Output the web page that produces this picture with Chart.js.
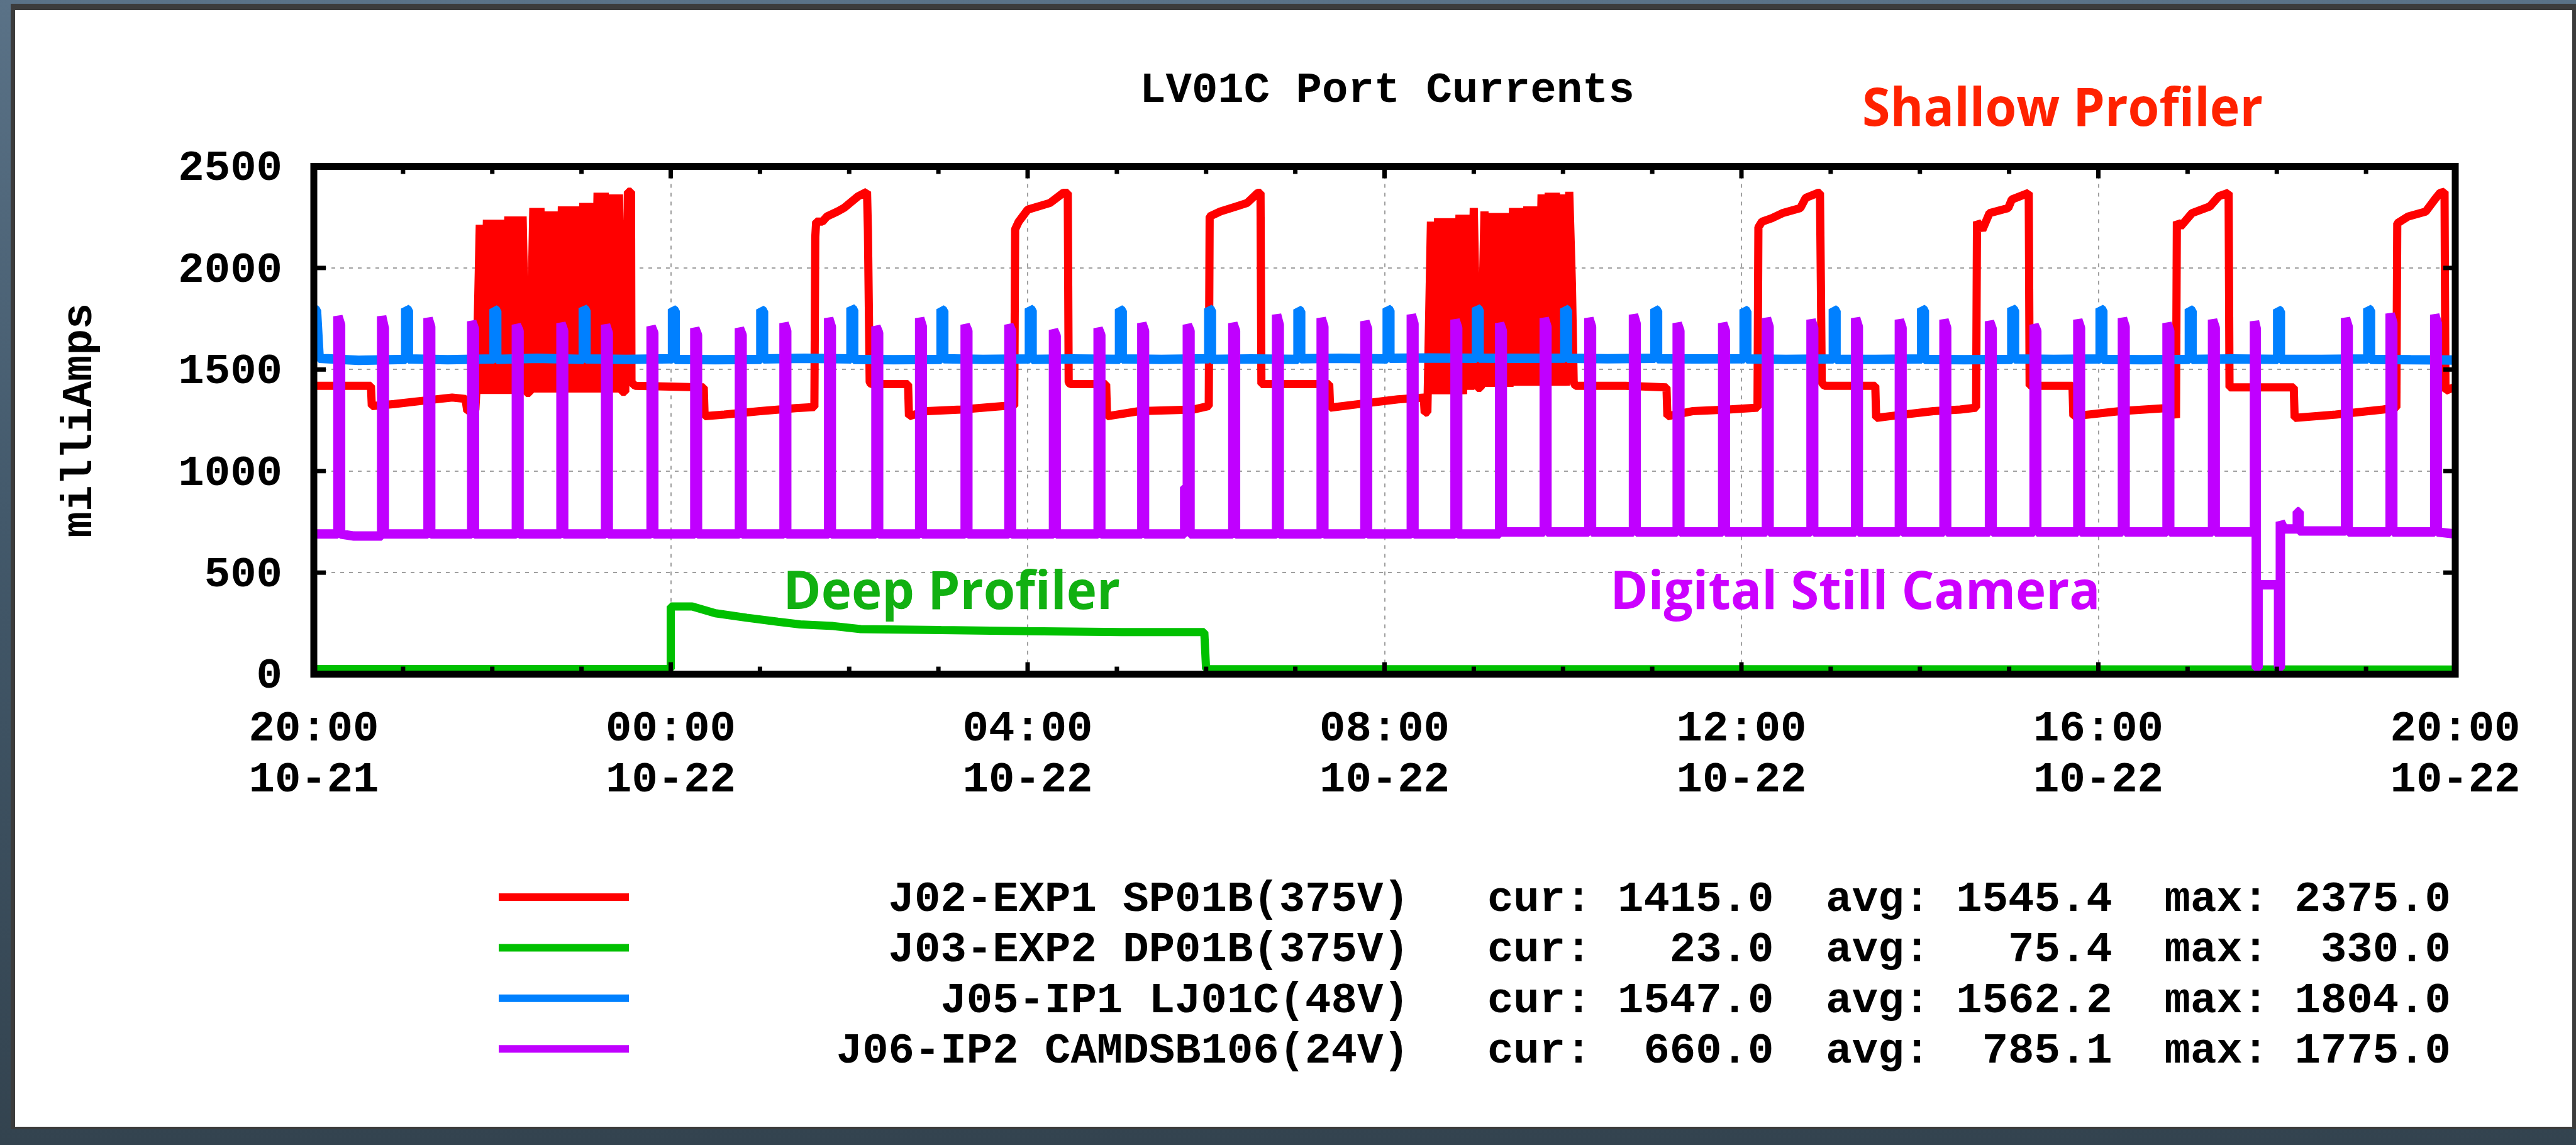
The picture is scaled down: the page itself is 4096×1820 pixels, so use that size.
<!DOCTYPE html>
<html>
<head>
<meta charset="utf-8">
<script src="https://cdn.jsdelivr.net/npm/chart.js@4.4.0/dist/chart.umd.min.js"></script>
<style>
  html, body { margin: 0; padding: 0; width: 4096px; height: 1820px; overflow: hidden; }
  #bg { position: absolute; left: 0; top: 0; width: 4096px; height: 1820px;
        background: linear-gradient(180deg, #5a7287 0%, #43596b 45%, #33434f 100%); }
  #win { position: absolute; left: 17px; top: 6px; width: 4079px; height: 1789px; background: #3c3c3c; }
  #panel { position: absolute; left: 24px; top: 16px; width: 4066px; height: 1775px; background: #ffffff; }
  #c { position: absolute; left: 0; top: 0; }
</style>
</head>
<body>
<div id="bg"></div>
<div id="win"></div>
<div id="panel"></div>
<canvas id="c" width="4096" height="1820"></canvas>
<script>
// ---------------- data (x = hours after 20:00 on 10-21, y = milliAmps) ----------------
const chartTitle = 'LV01C Port Currents';
const yAxisTitle = 'milliAmps';
const xTickLabels = [['20:00','10-21'],['00:00','10-22'],['04:00','10-22'],['08:00','10-22'],['12:00','10-22'],['16:00','10-22'],['20:00','10-22']];
const yTickLabels = ['0','500','1000','1500','2000','2500'];

const seriesNames = ['J02-EXP1 SP01B(375V)','J03-EXP2 DP01B(375V)','J05-IP1 LJ01C(48V)','J06-IP2 CAMDSB106(24V)'];
const seriesColors = ['#ff0000','#00c000','#0080ff','#c000ff'];
const statCur = [1415.0, 23.0, 1547.0, 660.0];
const statAvg = [1545.4, 75.4, 1562.2, 785.1];
const statMax = [2375.0, 330.0, 1804.0, 1775.0];

const annotations = [
  { text: 'Shallow Profiler', color: '#ff2200' },
  { text: 'Deep Profiler', color: '#11b011' },
  { text: 'Digital Still Camera', color: '#cc00ff' }
];

const sp01b = [
[0.00,1420],[0.64,1420],[0.65,1320],[0.90,1330],[1.20,1345],[1.55,1362],[1.70,1355],[1.72,1295],[1.81,1300],
[1.82,1380],[1.86,2212],[1.90,1380],[1.94,2237],[1.98,1380],[2.02,2237],[2.06,1380],[2.10,2237],[2.14,1380],[2.18,2253],
[2.22,1380],[2.26,2253],[2.30,1380],[2.34,2253],[2.38,1385],[2.42,1385],[2.46,2295],[2.50,1387],[2.54,2295],[2.58,1387],
[2.62,2278],[2.66,1387],[2.70,2278],[2.74,1387],[2.78,2303],[2.82,1387],[2.86,2303],[2.90,1387],[2.94,2303],[2.98,1387],
[3.02,2320],[3.06,1387],[3.10,2320],[3.14,1387],[3.18,2370],[3.22,1387],[3.26,2370],[3.30,1387],[3.34,2362],[3.38,1387],
[3.42,2362],[3.45,1390],[3.49,1390],[3.52,2375],[3.555,2375],[3.56,1437],
[3.60,1420],[4.37,1412],[4.38,1270],[4.60,1278],[5.00,1295],[5.40,1310],[5.61,1315],
[5.62,2153],[5.63,2228],[5.70,2228],[5.75,2253],[5.87,2278],[5.94,2295],[6.10,2353],[6.20,2375],[6.21,2187],[6.23,1437],
[6.25,1428],[6.66,1428],[6.67,1270],[6.87,1295],[7.25,1303],[7.72,1320],[7.85,1320],
[7.86,2190],[7.90,2228],[8.00,2287],[8.25,2320],[8.40,2370],[8.45,2370],[8.46,1437],
[8.48,1428],[8.88,1428],[8.89,1270],[9.25,1295],[9.86,1303],[10.03,1320],
[10.04,2253],[10.16,2278],[10.34,2303],[10.46,2320],[10.58,2370],[10.61,2370],[10.62,1428],
[11.38,1428],[11.39,1312],[11.68,1328],[12.15,1353],[12.44,1362],[12.45,1287],[12.48,1290],
[12.52,2228],[12.56,1378],[12.60,2245],[12.64,1378],[12.68,2245],[12.72,1378],[12.76,2245],[12.80,1378],[12.84,2262],
[12.88,1378],[12.92,2262],[12.96,1400],[13.00,2295],[13.04,1410],[13.08,1410],[13.12,2278],[13.16,1415],[13.20,2270],
[13.24,1415],[13.28,2270],[13.32,1415],[13.36,2270],[13.40,1415],[13.44,2295],[13.48,1420],[13.52,2295],[13.56,1420],
[13.60,2303],[13.64,1420],[13.68,2303],[13.72,1420],[13.76,2362],[13.80,1420],[13.84,2370],[13.88,1420],[13.92,2370],
[13.96,1420],[14.00,2362],[14.03,1420],[14.07,2375],[14.10,1920],[14.12,1437],
[14.14,1420],[14.70,1420],[15.16,1412],[15.17,1270],[15.45,1295],[15.85,1303],[16.18,1312],
[16.19,2200],[16.23,2228],[16.34,2245],[16.46,2270],[16.66,2295],[16.72,2345],[16.86,2370],[16.88,2370],[16.89,1937],[16.90,1437],
[16.93,1420],[17.50,1420],[17.51,1262],[17.66,1270],[18.15,1295],[18.45,1303],[18.63,1312],
[18.64,2228],[18.70,2187],[18.78,2270],[18.99,2295],[19.03,2337],[19.22,2370],[19.23,1420],
[19.71,1420],[19.72,1270],[20.24,1295],[20.84,1312],[20.87,1262],
[20.88,2228],[20.92,2203],[21.05,2270],[21.25,2303],[21.35,2353],[21.46,2370],[21.47,1412],
[22.19,1412],[22.20,1262],[22.66,1278],[23.19,1303],[23.34,1312],
[23.35,2220],[23.47,2253],[23.67,2278],[23.77,2337],[23.83,2370],[23.88,2375],[23.89,1395],[24.00,1415]
];

const dp01b = [
[0.00,25],[4.00,25],[4.00,333],[4.24,333],[4.50,300],[4.85,278],[5.20,258],[5.45,245],[5.82,237],[6.13,222],
[7.03,217],[8.00,212],[9.05,207],[9.98,207],[10.00,25],[16.00,24],[24.00,23]
];

const lj01c = [
[0.00,1800],[0.03,1790],[0.06,1555],[0.50,1545],
[1.03,1550],[1.03,1800],[1.06,1790],[1.06,1552],[1.50,1548],
[2.02,1552],[2.02,1797],[2.05,1788],[2.05,1550],[2.50,1555],
[3.02,1550],[3.02,1802],[3.05,1790],[3.05,1552],[3.50,1550],
[4.02,1553],[4.02,1797],[4.05,1788],[4.05,1550],[4.50,1548],
[5.01,1550],[5.01,1795],[5.04,1786],[5.04,1552],[5.50,1555],
[6.02,1552],[6.02,1804],[6.05,1792],[6.05,1550],[6.50,1548],
[7.03,1550],[7.03,1797],[7.06,1788],[7.06,1553],[7.50,1550],
[8.02,1552],[8.02,1800],[8.05,1790],[8.05,1550],[8.50,1552],
[9.03,1550],[9.03,1797],[9.06,1788],[9.06,1552],[9.50,1550],
[10.03,1553],[10.03,1800],[10.06,1790],[10.06,1550],[10.50,1552],
[11.03,1550],[11.03,1795],[11.06,1786],[11.06,1553],[11.50,1555],
[12.03,1552],[12.03,1800],[12.06,1790],[12.06,1555],[12.50,1557],
[13.03,1555],[13.03,1804],[13.06,1792],[13.06,1556],[13.50,1555],
[14.02,1556],[14.02,1800],[14.05,1790],[14.05,1555],[14.50,1553],
[15.03,1555],[15.03,1797],[15.06,1788],[15.06,1553],[15.50,1552],
[16.03,1553],[16.03,1795],[16.06,1786],[16.06,1552],[16.50,1550],
[17.03,1552],[17.03,1797],[17.06,1788],[17.06,1550],[17.50,1550],
[18.02,1552],[18.02,1800],[18.05,1790],[18.05,1550],[18.50,1548],
[19.03,1550],[19.03,1802],[19.06,1790],[19.06,1552],[19.50,1550],
[20.02,1552],[20.02,1800],[20.05,1790],[20.05,1550],[20.50,1548],
[21.02,1550],[21.02,1797],[21.05,1788],[21.05,1550],[21.50,1552],
[22.01,1550],[22.01,1795],[22.04,1786],[22.04,1550],[22.50,1550],
[23.02,1552],[23.02,1800],[23.05,1790],[23.05,1550],[23.50,1548],[24.00,1547]
];

const camdsb106 = [
[0.00,690],[0.27,690],[0.27,1762],[0.30,1720],[0.30,690],
[0.45,680],[0.76,680],[0.76,1762],[0.79,1703],[0.79,690],
[1.28,690],[1.28,1753],[1.31,1710],[1.31,690],
[1.77,690],[1.77,1737],[1.80,1700],[1.80,690],
[2.27,690],[2.27,1720],[2.30,1690],[2.30,690],
[2.77,690],[2.77,1728],[2.80,1690],[2.80,690],
[3.27,690],[3.27,1720],[3.30,1680],[3.30,690],
[3.78,690],[3.78,1712],[3.81,1680],[3.81,690],
[4.27,690],[4.27,1703],[4.30,1670],[4.30,690],
[4.77,690],[4.77,1703],[4.80,1670],[4.80,690],
[5.27,690],[5.27,1728],[5.30,1690],[5.30,690],
[5.77,690],[5.77,1753],[5.80,1710],[5.80,690],
[6.30,690],[6.30,1712],[6.33,1680],[6.33,690],
[6.79,690],[6.79,1753],[6.82,1710],[6.82,690],
[7.30,690],[7.30,1720],[7.33,1690],[7.33,690],
[7.79,690],[7.79,1720],[7.82,1690],[7.82,690],
[8.29,690],[8.29,1695],[8.32,1665],[8.32,690],
[8.79,690],[8.79,1703],[8.82,1670],[8.82,690],
[9.28,690],[9.28,1728],[9.31,1690],[9.31,690],
[9.76,690],[9.76,920],[9.79,920],[9.79,1720],[9.82,1690],[9.82,690],
[10.30,690],[10.30,1728],[10.33,1690],[10.33,690],
[10.79,690],[10.79,1770],[10.82,1720],[10.82,690],
[11.29,690],[11.29,1753],[11.32,1710],[11.32,690],
[11.78,690],[11.78,1737],[11.81,1700],[11.81,690],
[12.30,690],[12.30,1770],[12.33,1725],[12.33,690],
[12.79,690],[12.79,1745],[12.82,1705],[12.82,690],
[13.29,690],[13.29,1728],[13.32,1690],[13.32,700],
[13.79,700],[13.79,1753],[13.82,1710],[13.82,700],
[14.29,700],[14.29,1753],[14.32,1710],[14.32,700],
[14.79,700],[14.79,1770],[14.82,1725],[14.82,700],
[15.28,700],[15.28,1728],[15.31,1690],[15.31,700],
[15.79,700],[15.79,1728],[15.82,1690],[15.82,700],
[16.28,700],[16.28,1753],[16.31,1710],[16.31,700],
[16.78,700],[16.78,1745],[16.81,1705],[16.81,700],
[17.28,700],[17.28,1753],[17.31,1710],[17.31,700],
[17.77,700],[17.77,1745],[17.80,1705],[17.80,700],
[18.27,700],[18.27,1745],[18.30,1705],[18.30,700],
[18.78,700],[18.78,1737],[18.81,1700],[18.81,700],
[19.28,700],[19.28,1720],[19.31,1690],[19.31,700],
[19.77,700],[19.77,1745],[19.80,1705],[19.80,700],
[20.27,700],[20.27,1753],[20.30,1710],[20.30,700],
[20.77,700],[20.77,1728],[20.80,1690],[20.80,700],
[21.28,700],[21.28,1745],[21.31,1705],[21.31,700],
[21.75,700],[21.75,1737],[21.77,1700],[21.77,30],[21.79,30],[21.79,440],[22.02,440],[22.02,30],[22.04,30],
[22.04,750],[22.08,715],[22.23,715],[22.23,800],[22.25,800],[22.25,705],
[22.77,705],[22.77,1753],[22.80,1710],[22.80,700],
[23.27,700],[23.27,1775],[23.30,1730],[23.30,700],
[23.77,700],[23.77,1770],[23.80,1725],[23.80,700],[24.00,690]
];

// ---------------- styling / layout ----------------
const MONO = '"Liberation Mono", "DejaVu Sans Mono", monospace';
const FS = 69;
const W = 4096, H = 1820;
const AREA = { left: 499, right: 3904, top: 264.5, bottom: 1071.6 };
const MID = 4.4;
const LW = [13, 13, 15, 15];

Chart.defaults.elements.line.borderWidth = 13;
Chart.defaults.elements.line.borderJoinStyle = 'bevel';

function drawFitted(ctx, text, left, right, baseline, color) {
  ctx.save();
  ctx.font = '700 84px "Open Sans", Lato, sans-serif';
  ctx.fillStyle = color;
  ctx.textAlign = 'left';
  ctx.textBaseline = 'alphabetic';
  const m = ctx.measureText(text);
  const w = m.actualBoundingBoxRight + m.actualBoundingBoxLeft;
  ctx.translate(left, baseline);
  ctx.scale((right - left) / w, 1);
  ctx.fillText(text, m.actualBoundingBoxLeft, 0);
  ctx.restore();
}

const overlay = {
  id: 'overlay',
  afterDatasetsDraw(chart) {
    const { ctx, chartArea: a, scales: { x, y } } = chart;
    ctx.save();
    ctx.strokeStyle = '#000';
    ctx.lineCap = 'butt';
    ctx.lineWidth = 7;
    const seg = (x1, y1, x2, y2) => { ctx.beginPath(); ctx.moveTo(x1, y1); ctx.lineTo(x2, y2); ctx.stroke(); };
    for (let h = x.min; h <= x.max; h++) {
      const px = x.getPixelForValue(h);
      const len = (h % 4 === 0) ? 19 : 12;
      seg(px, a.top, px, a.top + len);
      seg(px, a.bottom, px, a.bottom - len);
    }
    y.ticks.forEach(t => {
      const py = y.getPixelForValue(t.value);
      seg(a.left, py, a.left + 19, py);
      seg(a.right, py, a.right - 19, py);
    });
    ctx.lineWidth = 11;
    ctx.lineJoin = 'miter';
    ctx.strokeRect(a.left, a.top, a.right - a.left, a.bottom - a.top);
    ctx.restore();
  },
  afterDraw(chart) {
    const { ctx, chartArea: a } = chart;
    ctx.save();
    ctx.font = 'bold ' + FS + 'px ' + MONO;
    ctx.fillStyle = '#000';
    ctx.textAlign = 'center';
    ctx.textBaseline = 'middle';
    ctx.fillText(chartTitle, (a.left + a.right) / 2 + 4, 140 + MID);
    const rowY0 = 1426, rowDY = 80.4;
    for (let i = 0; i < seriesNames.length; i++) {
      const yy = rowY0 + i * rowDY;
      ctx.strokeStyle = seriesColors[i];
      ctx.lineWidth = 12;
      ctx.beginPath(); ctx.moveTo(793, yy); ctx.lineTo(1000, yy); ctx.stroke();
      const row = seriesNames[i] + '   cur: ' + statCur[i].toFixed(1).padStart(6) +
                  '  avg: ' + statAvg[i].toFixed(1).padStart(6) +
                  '  max: ' + statMax[i].toFixed(1).padStart(6);
      ctx.fillStyle = '#000';
      ctx.textAlign = 'right';
      ctx.textBaseline = 'middle';
      ctx.font = 'bold ' + FS + 'px ' + MONO;
      ctx.fillText(row, 3897, yy + MID);
    }
    ctx.restore();
    drawFitted(ctx, annotations[0].text, 2964, 3597, 200, annotations[0].color);
    drawFitted(ctx, annotations[1].text, 1252, 1780, 968, annotations[1].color);
    drawFitted(ctx, annotations[2].text, 2567, 3334, 968, annotations[2].color);
  }
};

const tickFont = { family: MONO, weight: 'bold', size: FS, lineHeight: 81 / FS };
const lineStyle = (i) => ({
  borderColor: seriesColors[i], backgroundColor: seriesColors[i], borderWidth: LW[i],
  pointRadius: 0, pointHoverRadius: 0, tension: 0, fill: false,
  borderJoinStyle: 'bevel', borderCapStyle: 'butt'
});

new Chart(document.getElementById('c'), {
  type: 'line',
  data: {
    datasets: [
      Object.assign({ label: seriesNames[0], data: sp01b, order: 4 }, lineStyle(0)),
      Object.assign({ label: seriesNames[1], data: dp01b, order: 3 }, lineStyle(1)),
      Object.assign({ label: seriesNames[2], data: lj01c, order: 2 }, lineStyle(2)),
      Object.assign({ label: seriesNames[3], data: camdsb106, order: 1 }, lineStyle(3))
    ]
  },
  options: {
    responsive: false,
    animation: false,
    devicePixelRatio: 1,
    events: [],
    layout: { padding: { top: AREA.top, right: W - AREA.right, bottom: 0, left: 0 } },
    plugins: { legend: { display: false }, tooltip: { enabled: false }, title: { display: false } },
    scales: {
      x: {
        type: 'linear', min: 0, max: 24,
        afterFit: s => { s.height = H - AREA.bottom; },
        ticks: {
          stepSize: 4, autoSkip: false, maxRotation: 0, minRotation: 0, includeBounds: true,
          padding: 48, color: '#000', font: tickFont,
          callback: v => xTickLabels[Math.round(v / 4)]
        },
        grid: { color: '#a0a0a0', lineWidth: 2, drawTicks: false },
        border: { display: false, dash: [6, 8] }
      },
      y: {
        type: 'linear', min: 0, max: 2500,
        afterFit: s => { s.width = AREA.left; },
        ticks: {
          stepSize: 500, padding: 50, labelOffset: MID, color: '#000', font: tickFont,
          callback: v => yTickLabels[Math.round(v / 500)]
        },
        grid: { color: '#a0a0a0', lineWidth: 2, drawTicks: false },
        border: { display: false, dash: [6, 8] },
        title: {
          display: true, text: yAxisTitle, color: '#000',
          font: { family: MONO, weight: 'bold', size: FS, lineHeight: 1.2 },
          padding: { top: 86, bottom: 0 }
        }
      }
    }
  },
  plugins: [overlay]
});
</script>
</body>
</html>
